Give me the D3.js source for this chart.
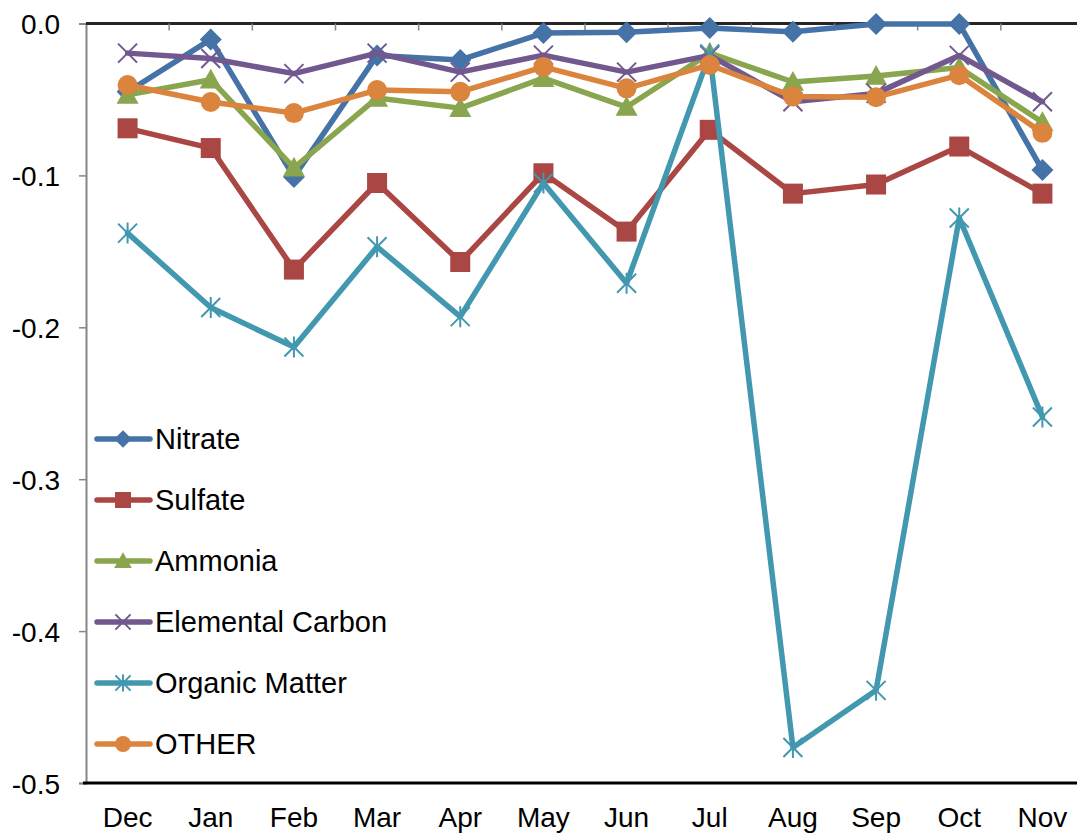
<!DOCTYPE html>
<html>
<head>
<meta charset="utf-8">
<script src="https://cdn.jsdelivr.net/npm/d3@7"></script>
<style>
  html, body { margin: 0; padding: 0; background: #fff; }
  svg { display: block; font-family: "Liberation Sans", Arial, sans-serif; }
</style>
</head>
<body>
<svg id="chart" width="1077" height="839"></svg>
<script>
// Monthly change by species
const months = ["Dec","Jan","Feb","Mar","Apr","May","Jun","Jul","Aug","Sep","Oct","Nov"];
const yTicks = [0, -0.1, -0.2, -0.3, -0.4, -0.5];

const nitrate   = [-0.045, -0.0105, -0.101, -0.021, -0.024, -0.0063, -0.0058, -0.003, -0.0055, -0.0003, -0.0003, -0.0965];
const sulfate   = [-0.069, -0.082, -0.162, -0.105, -0.157, -0.0986, -0.137, -0.070, -0.112, -0.106, -0.081, -0.112];
const ammonia   = [-0.047, -0.037, -0.095, -0.049, -0.0557, -0.036, -0.055, -0.0195, -0.0385, -0.0346, -0.029, -0.065];
const elemental = [-0.0195, -0.023, -0.033, -0.0195, -0.032, -0.0208, -0.032, -0.021, -0.0515, -0.046, -0.021, -0.0515];
const organic   = [-0.138, -0.187, -0.213, -0.147, -0.193, -0.105, -0.171, -0.020, -0.4766, -0.439, -0.128, -0.259];
const other     = [-0.0405, -0.0517, -0.059, -0.0438, -0.045, -0.0286, -0.0427, -0.0273, -0.048, -0.0485, -0.034, -0.072];

const seriesNames  = ["Nitrate", "Sulfate", "Ammonia", "Elemental Carbon", "Organic Matter", "OTHER"];
const seriesValues = [nitrate, sulfate, ammonia, elemental, organic, other];
const seriesColors = ["#4572A7", "#AA4643", "#89A54E", "#71588F", "#4198AF", "#DB843D"];
const seriesMarkers = ["diamond", "square", "triangle", "x", "star", "circle"];

const svg = d3.select("#chart");
const plotLeft = 86, plotRight = 1084, plotTop = 23.5, plotBottom = 783;

const x = d3.scaleBand().domain(months).range([plotLeft, plotRight]).padding(0);
const y = d3.scaleLinear().domain([-0.5, 0]).range([plotBottom, plotTop]);

// Plain hyphen-minus for negative tick labels
const fmt = d => d3.format(".1f")(d).replace("\u2212", "-");

// Y axis (left) with outward ticks
const yAxis = d3.axisLeft(y).tickValues(yTicks).tickFormat(fmt).tickSize(7);
const gy = svg.append("g").attr("transform", `translate(${plotLeft},0)`).call(yAxis);
gy.select(".domain").attr("stroke", "#868686").attr("stroke-width", 2);
gy.selectAll(".tick line").attr("stroke", "#868686").attr("stroke-width", 1.5);
gy.selectAll(".tick text").attr("font-size", 28).attr("fill", "#000")
  .attr("font-family", "Liberation Sans, Arial, sans-serif").attr("dy", "0.36em").attr("x", -26);

// Category axis crosses at zero (top), ticks between categories pointing inward
const catAxisY = y(0);
svg.append("line").attr("x1", plotLeft).attr("x2", plotRight).attr("y1", catAxisY).attr("y2", catAxisY)
  .attr("stroke", "#262626").attr("stroke-width", 3);
svg.append("g").selectAll("line").data(months.slice(1)).join("line")
  .attr("x1", d => x(d)).attr("x2", d => x(d))
  .attr("y1", catAxisY).attr("y2", catAxisY + 7)
  .attr("stroke", "#868686").attr("stroke-width", 1.5);

// Plot-area bottom edge
svg.append("line").attr("x1", plotLeft - 3).attr("x2", plotRight).attr("y1", y(-0.5)).attr("y2", y(-0.5))
  .attr("stroke", "#000").attr("stroke-width", 3);

// Month labels at the bottom
svg.append("g").selectAll("text").data(months).join("text")
  .attr("x", d => x(d) + x.bandwidth() / 2)
  .attr("y", 827)
  .attr("text-anchor", "middle")
  .attr("font-size", 28)
  .attr("fill", "#000")
  .text(d => d);

// Marker shapes
function marker(g, type, color, s) {
  const k = s || 1;
  if (type === "diamond") {
    const r = 11 * k;
    g.append("path").attr("d", `M0,${-r}L${r},0L0,${r}L${-r},0Z`).attr("fill", color);
  } else if (type === "square") {
    const h = 10 * k;
    g.append("rect").attr("x", -h).attr("y", -h).attr("width", 2 * h).attr("height", 2 * h).attr("fill", color);
  } else if (type === "triangle") {
    const h = 11 * k;
    g.append("path").attr("d", `M0,${-h}L${h},${h * 0.8}L${-h},${h * 0.8}Z`).attr("fill", color);
  } else if (type === "circle") {
    g.append("circle").attr("r", 10 * k).attr("fill", color);
  } else if (type === "x") {
    const h = 9.5 * k;
    g.append("path").attr("d", `M${-h},${-h}L${h},${h}M${-h},${h}L${h},${-h}`)
      .attr("stroke", color).attr("stroke-width", 2).attr("fill", "none");
  } else if (type === "star") {
    const h = 9.5 * k;
    g.append("path").attr("d", `M${-h},${-h}L${h},${h}M${-h},${h}L${h},${-h}M0,${-h - 1}L0,${h + 1}`)
      .attr("stroke", color).attr("stroke-width", 2).attr("fill", "none");
  }
}

const line = d3.line()
  .x((d, i) => x(months[i]) + x.bandwidth() / 2)
  .y(d => y(d));

seriesValues.forEach((vals, si) => {
  const g = svg.append("g");
  g.append("path").datum(vals)
    .attr("d", line)
    .attr("fill", "none")
    .attr("stroke", seriesColors[si])
    .attr("stroke-width", 5.5)
    .attr("stroke-linejoin", "round")
    .attr("stroke-linecap", "round");
  vals.forEach((v, i) => {
    const mg = g.append("g").attr("transform", `translate(${x(months[i]) + x.bandwidth() / 2},${y(v)})`);
    marker(mg, seriesMarkers[si], seriesColors[si]);
  });
});

// Legend
const legendTop = 439, legendStep = 61;
const lg = svg.append("g");
seriesNames.forEach((name, si) => {
  const cy = legendTop + si * legendStep;
  lg.append("line").attr("x1", 97).attr("x2", 150).attr("y1", cy).attr("y2", cy)
    .attr("stroke", seriesColors[si]).attr("stroke-width", 5.5).attr("stroke-linecap", "round");
  const mg = lg.append("g").attr("transform", `translate(123,${cy})`);
  marker(mg, seriesMarkers[si], seriesColors[si], 0.8);
  lg.append("text").attr("x", 155).attr("y", cy).attr("dy", "0.36em")
    .attr("font-size", 29).attr("fill", "#000").text(name);
});
</script>
</body>
</html>
